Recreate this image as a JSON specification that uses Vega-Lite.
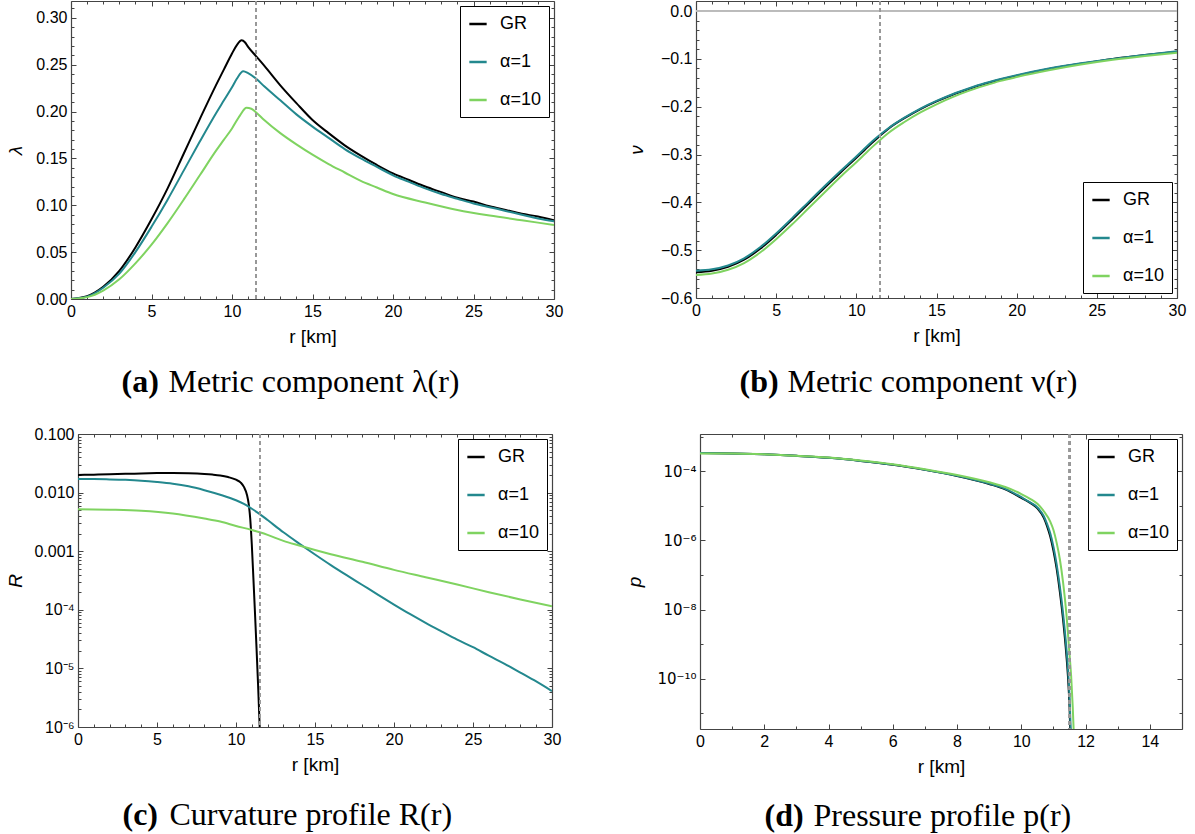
{
  "$schema": "https://vega.github.io/schema/vega-lite/v6.json",
  "padding": {"left": 5, "top": 0, "right": 5, "bottom": 5},
  "background": "white",
  "config": {
    "font": "Liberation Sans",
    "view": {"stroke": null},
    "axis": {"domainColor": "#444", "tickColor": "#444", "labelFont": "Liberation Sans", "labelFontSize": 16, "labelColor": "#000", "titleFont": "Liberation Sans", "titleFontSize": 19, "titleFontWeight": "normal", "titleColor": "#000", "grid": false, "tickSize": -5, "domainWidth": 1.2, "tickWidth": 1, "labelFlush": false, "labelOverlap": false, "labelPadding": 9, "titlePadding": 8},
    "legend": {"title": null, "strokeColor": "#000", "fillColor": "#fff", "padding": 8, "rowPadding": 19, "labelFontSize": 18, "labelFont": "Liberation Sans", "symbolType": "stroke", "symbolSize": 300, "symbolStrokeWidth": 2.5, "labelOffset": 12, "offset": 5}
  },
  "datasets": {
    "lam": [
      {"r":0,"model":"GR","v":0},{"r":1,"model":"GR","v":0.003},{"r":2,"model":"GR","v":0.013},{"r":3,"model":"GR","v":0.030},{"r":4,"model":"GR","v":0.055},{"r":5,"model":"GR","v":0.085},{"r":6,"model":"GR","v":0.118},{"r":7,"model":"GR","v":0.155},{"r":8,"model":"GR","v":0.192},{"r":9,"model":"GR","v":0.228},{"r":9.5,"model":"GR","v":0.245},{"r":10,"model":"GR","v":0.262},{"r":10.3,"model":"GR","v":0.271},{"r":10.6,"model":"GR","v":0.276},{"r":10.8,"model":"GR","v":0.274},{"r":11,"model":"GR","v":0.269},{"r":11.5,"model":"GR","v":0.259},{"r":12,"model":"GR","v":0.249},{"r":13,"model":"GR","v":0.228},{"r":14,"model":"GR","v":0.209},{"r":15,"model":"GR","v":0.191},{"r":16,"model":"GR","v":0.177},{"r":17,"model":"GR","v":0.164},{"r":18,"model":"GR","v":0.153},{"r":19,"model":"GR","v":0.143},{"r":20,"model":"GR","v":0.134},{"r":21,"model":"GR","v":0.127},{"r":22,"model":"GR","v":0.120},{"r":23,"model":"GR","v":0.114},{"r":24,"model":"GR","v":0.108},{"r":25,"model":"GR","v":0.104},{"r":26,"model":"GR","v":0.099},{"r":27,"model":"GR","v":0.095},{"r":28,"model":"GR","v":0.091},{"r":29,"model":"GR","v":0.088},{"r":30,"model":"GR","v":0.084},
      {"r":0,"model":"α=1","v":0},{"r":1,"model":"α=1","v":0.0025},{"r":2,"model":"α=1","v":0.012},{"r":3,"model":"α=1","v":0.027},{"r":4,"model":"α=1","v":0.050},{"r":5,"model":"α=1","v":0.077},{"r":6,"model":"α=1","v":0.106},{"r":7,"model":"α=1","v":0.137},{"r":8,"model":"α=1","v":0.168},{"r":9,"model":"α=1","v":0.198},{"r":9.5,"model":"α=1","v":0.212},{"r":10,"model":"α=1","v":0.226},{"r":10.3,"model":"α=1","v":0.235},{"r":10.7,"model":"α=1","v":0.243},{"r":11,"model":"α=1","v":0.241},{"r":11.5,"model":"α=1","v":0.235},{"r":12,"model":"α=1","v":0.227},{"r":13,"model":"α=1","v":0.212},{"r":14,"model":"α=1","v":0.197},{"r":15,"model":"α=1","v":0.184},{"r":16,"model":"α=1","v":0.172},{"r":17,"model":"α=1","v":0.160},{"r":18,"model":"α=1","v":0.150},{"r":19,"model":"α=1","v":0.141},{"r":20,"model":"α=1","v":0.132},{"r":21,"model":"α=1","v":0.125},{"r":22,"model":"α=1","v":0.118},{"r":23,"model":"α=1","v":0.112},{"r":24,"model":"α=1","v":0.107},{"r":25,"model":"α=1","v":0.102},{"r":26,"model":"α=1","v":0.098},{"r":27,"model":"α=1","v":0.094},{"r":28,"model":"α=1","v":0.090},{"r":29,"model":"α=1","v":0.086},{"r":30,"model":"α=1","v":0.083},
      {"r":0,"model":"α=10","v":0},{"r":1,"model":"α=10","v":0.002},{"r":2,"model":"α=10","v":0.009},{"r":3,"model":"α=10","v":0.021},{"r":4,"model":"α=10","v":0.038},{"r":5,"model":"α=10","v":0.058},{"r":6,"model":"α=10","v":0.081},{"r":7,"model":"α=10","v":0.106},{"r":8,"model":"α=10","v":0.132},{"r":9,"model":"α=10","v":0.158},{"r":9.5,"model":"α=10","v":0.170},{"r":10,"model":"α=10","v":0.182},{"r":10.5,"model":"α=10","v":0.196},{"r":10.9,"model":"α=10","v":0.204},{"r":11.2,"model":"α=10","v":0.203},{"r":11.5,"model":"α=10","v":0.199},{"r":12,"model":"α=10","v":0.191},{"r":13,"model":"α=10","v":0.177},{"r":14,"model":"α=10","v":0.165},{"r":15,"model":"α=10","v":0.154},{"r":16,"model":"α=10","v":0.144},{"r":17,"model":"α=10","v":0.135},{"r":18,"model":"α=10","v":0.126},{"r":19,"model":"α=10","v":0.119},{"r":20,"model":"α=10","v":0.112},{"r":22,"model":"α=10","v":0.103},{"r":24,"model":"α=10","v":0.095},{"r":26,"model":"α=10","v":0.089},{"r":28,"model":"α=10","v":0.084},{"r":30,"model":"α=10","v":0.079}
    ],
    "nu": [
      {"r":0,"model":"GR","v":-0.546},{"r":1,"model":"GR","v":-0.543},{"r":2,"model":"GR","v":-0.535},{"r":3,"model":"GR","v":-0.520},{"r":4,"model":"GR","v":-0.497},{"r":5,"model":"GR","v":-0.468},{"r":6,"model":"GR","v":-0.436},{"r":7,"model":"GR","v":-0.403},{"r":8,"model":"GR","v":-0.370},{"r":9,"model":"GR","v":-0.338},{"r":10,"model":"GR","v":-0.307},{"r":10.5,"model":"GR","v":-0.291},{"r":11,"model":"GR","v":-0.275},{"r":11.5,"model":"GR","v":-0.260},{"r":12,"model":"GR","v":-0.246},{"r":13,"model":"GR","v":-0.224},{"r":14,"model":"GR","v":-0.205},{"r":15,"model":"GR","v":-0.189},{"r":16,"model":"GR","v":-0.175},{"r":17,"model":"GR","v":-0.163},{"r":18,"model":"GR","v":-0.152},{"r":19,"model":"GR","v":-0.143},{"r":20,"model":"GR","v":-0.135},{"r":22,"model":"GR","v":-0.121},{"r":24,"model":"GR","v":-0.110},{"r":26,"model":"GR","v":-0.100},{"r":28,"model":"GR","v":-0.092},{"r":30,"model":"GR","v":-0.085},
      {"r":0,"model":"α=1","v":-0.543},{"r":1,"model":"α=1","v":-0.540},{"r":2,"model":"α=1","v":-0.532},{"r":3,"model":"α=1","v":-0.517},{"r":4,"model":"α=1","v":-0.494},{"r":5,"model":"α=1","v":-0.465},{"r":6,"model":"α=1","v":-0.433},{"r":7,"model":"α=1","v":-0.400},{"r":8,"model":"α=1","v":-0.367},{"r":9,"model":"α=1","v":-0.335},{"r":10,"model":"α=1","v":-0.304},{"r":10.5,"model":"α=1","v":-0.288},{"r":11,"model":"α=1","v":-0.272},{"r":11.5,"model":"α=1","v":-0.258},{"r":12,"model":"α=1","v":-0.245},{"r":13,"model":"α=1","v":-0.223},{"r":14,"model":"α=1","v":-0.204},{"r":15,"model":"α=1","v":-0.188},{"r":16,"model":"α=1","v":-0.174},{"r":17,"model":"α=1","v":-0.162},{"r":18,"model":"α=1","v":-0.151},{"r":19,"model":"α=1","v":-0.142},{"r":20,"model":"α=1","v":-0.134},{"r":22,"model":"α=1","v":-0.120},{"r":24,"model":"α=1","v":-0.109},{"r":26,"model":"α=1","v":-0.100},{"r":28,"model":"α=1","v":-0.092},{"r":30,"model":"α=1","v":-0.084},
      {"r":0,"model":"α=10","v":-0.552},{"r":1,"model":"α=10","v":-0.549},{"r":2,"model":"α=10","v":-0.541},{"r":3,"model":"α=10","v":-0.527},{"r":4,"model":"α=10","v":-0.505},{"r":5,"model":"α=10","v":-0.477},{"r":6,"model":"α=10","v":-0.446},{"r":7,"model":"α=10","v":-0.413},{"r":8,"model":"α=10","v":-0.380},{"r":9,"model":"α=10","v":-0.347},{"r":10,"model":"α=10","v":-0.316},{"r":10.5,"model":"α=10","v":-0.300},{"r":11,"model":"α=10","v":-0.284},{"r":11.5,"model":"α=10","v":-0.269},{"r":12,"model":"α=10","v":-0.255},{"r":13,"model":"α=10","v":-0.232},{"r":14,"model":"α=10","v":-0.212},{"r":15,"model":"α=10","v":-0.195},{"r":16,"model":"α=10","v":-0.180},{"r":17,"model":"α=10","v":-0.167},{"r":18,"model":"α=10","v":-0.156},{"r":19,"model":"α=10","v":-0.146},{"r":20,"model":"α=10","v":-0.138},{"r":22,"model":"α=10","v":-0.124},{"r":24,"model":"α=10","v":-0.112},{"r":26,"model":"α=10","v":-0.102},{"r":28,"model":"α=10","v":-0.094},{"r":30,"model":"α=10","v":-0.087}
    ],
    "curv": [
      {"r":0,"model":"GR","v":0.0200},{"r":1,"model":"GR","v":0.0202},{"r":2,"model":"GR","v":0.0205},{"r":3,"model":"GR","v":0.0209},{"r":4,"model":"GR","v":0.0212},{"r":5,"model":"GR","v":0.0215},{"r":6,"model":"GR","v":0.0216},{"r":7,"model":"GR","v":0.0214},{"r":8,"model":"GR","v":0.0208},{"r":8.5,"model":"GR","v":0.0203},{"r":9,"model":"GR","v":0.0196},{"r":9.5,"model":"GR","v":0.0184},{"r":10,"model":"GR","v":0.0166},{"r":10.3,"model":"GR","v":0.0148},{"r":10.5,"model":"GR","v":0.0125},{"r":10.7,"model":"GR","v":0.0090},{"r":10.8,"model":"GR","v":0.0065},{"r":10.9,"model":"GR","v":0.0036},{"r":11.0,"model":"GR","v":0.0013},{"r":11.1,"model":"GR","v":0.00035},{"r":11.2,"model":"GR","v":0.00009},{"r":11.3,"model":"GR","v":0.000022},{"r":11.4,"model":"GR","v":0.000005},{"r":11.5,"model":"GR","v":0.000001},{"r":11.6,"model":"GR","v":0.00000015},
      {"r":0,"model":"α=1","v":0.0170},{"r":1,"model":"α=1","v":0.0170},{"r":2,"model":"α=1","v":0.0168},{"r":3,"model":"α=1","v":0.0165},{"r":4,"model":"α=1","v":0.0160},{"r":5,"model":"α=1","v":0.0152},{"r":6,"model":"α=1","v":0.0142},{"r":7,"model":"α=1","v":0.0128},{"r":8,"model":"α=1","v":0.0110},{"r":9,"model":"α=1","v":0.0092},{"r":10,"model":"α=1","v":0.0074},{"r":10.5,"model":"α=1","v":0.0064},{"r":11,"model":"α=1","v":0.0053},{"r":11.5,"model":"α=1","v":0.0043},{"r":12,"model":"α=1","v":0.0034},{"r":13,"model":"α=1","v":0.0021},{"r":14,"model":"α=1","v":0.00135},{"r":15,"model":"α=1","v":0.00088},{"r":16,"model":"α=1","v":0.00058},{"r":17,"model":"α=1","v":0.00039},{"r":18,"model":"α=1","v":0.000265},{"r":19,"model":"α=1","v":0.00018},{"r":20,"model":"α=1","v":0.000123},{"r":21,"model":"α=1","v":0.000085},{"r":22,"model":"α=1","v":0.00006},{"r":23,"model":"α=1","v":0.000043},{"r":24,"model":"α=1","v":0.000031},{"r":25,"model":"α=1","v":0.000023},{"r":26,"model":"α=1","v":0.0000165},{"r":27,"model":"α=1","v":0.000012},{"r":28,"model":"α=1","v":0.0000085},{"r":29,"model":"α=1","v":0.000006},{"r":30,"model":"α=1","v":0.0000041},
      {"r":0,"model":"α=10","v":0.0052},{"r":2,"model":"α=10","v":0.0051},{"r":4,"model":"α=10","v":0.0049},{"r":6,"model":"α=10","v":0.0044},{"r":8,"model":"α=10","v":0.0036},{"r":9,"model":"α=10","v":0.0032},{"r":10,"model":"α=10","v":0.0027},{"r":11,"model":"α=10","v":0.0023},{"r":11.5,"model":"α=10","v":0.0021},{"r":12,"model":"α=10","v":0.0019},{"r":13,"model":"α=10","v":0.0015},{"r":14,"model":"α=10","v":0.00125},{"r":15,"model":"α=10","v":0.00105},{"r":16,"model":"α=10","v":0.00089},{"r":18,"model":"α=10","v":0.00066},{"r":20,"model":"α=10","v":0.00048},{"r":22,"model":"α=10","v":0.00036},{"r":24,"model":"α=10","v":0.00027},{"r":26,"model":"α=10","v":0.0002},{"r":28,"model":"α=10","v":0.00015},{"r":30,"model":"α=10","v":0.000115}
    ],
    "pres": [
      {"r":0,"model":"GR","v":0.00034},{"r":1,"model":"GR","v":0.00033},{"r":2,"model":"GR","v":0.00031},{"r":3,"model":"GR","v":0.00028},{"r":4,"model":"GR","v":0.000245},{"r":5,"model":"GR","v":0.0002},{"r":6,"model":"GR","v":0.000155},{"r":7,"model":"GR","v":0.00011},{"r":8,"model":"GR","v":0.000073},{"r":9,"model":"GR","v":0.000043},{"r":9.5,"model":"GR","v":0.00003},{"r":10,"model":"GR","v":0.000017},{"r":10.3,"model":"GR","v":0.0000118},{"r":10.5,"model":"GR","v":0.0000085},{"r":10.7,"model":"GR","v":0.0000045},{"r":10.8,"model":"GR","v":0.0000026},{"r":10.9,"model":"GR","v":0.0000013},{"r":11.0,"model":"GR","v":5e-7},{"r":11.1,"model":"GR","v":1.5e-7},{"r":11.2,"model":"GR","v":3.2e-8},{"r":11.3,"model":"GR","v":5e-9},{"r":11.4,"model":"GR","v":5e-10},{"r":11.45,"model":"GR","v":1.2e-10},{"r":11.5,"model":"GR","v":1.5e-11},{"r":11.55,"model":"GR","v":5e-13},
      {"r":0,"model":"α=1","v":0.00034},{"r":1,"model":"α=1","v":0.00033},{"r":2,"model":"α=1","v":0.00031},{"r":3,"model":"α=1","v":0.00028},{"r":4,"model":"α=1","v":0.000245},{"r":5,"model":"α=1","v":0.0002},{"r":6,"model":"α=1","v":0.000156},{"r":7,"model":"α=1","v":0.000111},{"r":8,"model":"α=1","v":0.000074},{"r":9,"model":"α=1","v":0.000044},{"r":9.5,"model":"α=1","v":0.000031},{"r":10,"model":"α=1","v":0.0000178},{"r":10.3,"model":"α=1","v":0.0000122},{"r":10.5,"model":"α=1","v":0.000009},{"r":10.7,"model":"α=1","v":0.000005},{"r":10.8,"model":"α=1","v":0.000003},{"r":10.9,"model":"α=1","v":0.0000016},{"r":11.0,"model":"α=1","v":6.5e-7},{"r":11.1,"model":"α=1","v":2e-7},{"r":11.2,"model":"α=1","v":4.5e-8},{"r":11.3,"model":"α=1","v":7.5e-9},{"r":11.4,"model":"α=1","v":8e-10},{"r":11.45,"model":"α=1","v":2e-10},{"r":11.5,"model":"α=1","v":3e-11},{"r":11.55,"model":"α=1","v":1.5e-12},
      {"r":0,"model":"α=10","v":0.00033},{"r":1,"model":"α=10","v":0.000325},{"r":2,"model":"α=10","v":0.00031},{"r":3,"model":"α=10","v":0.00028},{"r":4,"model":"α=10","v":0.00025},{"r":5,"model":"α=10","v":0.000205},{"r":6,"model":"α=10","v":0.00016},{"r":7,"model":"α=10","v":0.000115},{"r":8,"model":"α=10","v":0.000078},{"r":9,"model":"α=10","v":0.000048},{"r":9.5,"model":"α=10","v":0.000035},{"r":10,"model":"α=10","v":0.000022},{"r":10.3,"model":"α=10","v":0.0000155},{"r":10.5,"model":"α=10","v":0.0000115},{"r":10.7,"model":"α=10","v":0.000007},{"r":10.9,"model":"α=10","v":0.0000035},{"r":11.0,"model":"α=10","v":0.000002},{"r":11.1,"model":"α=10","v":8.5e-7},{"r":11.2,"model":"α=10","v":2.8e-7},{"r":11.3,"model":"α=10","v":6e-8},{"r":11.4,"model":"α=10","v":8e-9},{"r":11.5,"model":"α=10","v":5e-10},{"r":11.55,"model":"α=10","v":1.2e-10},{"r":11.6,"model":"α=10","v":1.5e-11},{"r":11.65,"model":"α=10","v":1e-12}
    ],
    "spacer": [{"k": 1}]
  },
  "spacing": 29,
  "resolve": {"scale": {"color": "independent"}, "legend": {"color": "independent"}},
  "vconcat": [
    {
      "spacing": 64,
      "resolve": {"scale": {"color": "independent"}, "legend": {"color": "independent"}},
      "hconcat": [
        {
          "spacing": 0,
          "resolve": {"scale": {"color": "independent"}, "legend": {"color": "independent"}},
          "hconcat": [
            {"width": 1, "height": 1, "data": {"name": "spacer"}, "mark": {"type": "point", "opacity": 0, "size": 0, "strokeWidth": 0}},
            {
              "width": 483, "height": 298,
              "data": {"name": "lam"},
              "resolve": {"axis": {"x": "independent", "y": "independent"}},
              "layer": [
                {"mark": {"type": "line", "strokeWidth": 2, "clip": true, "interpolate": "monotone"},
                 "encoding": {
                   "x": {"field": "r", "type": "quantitative", "scale": {"domain": [0, 30], "nice": false}, "axis": {"orient": "bottom", "values": [0,5,10,15,20,25,30], "title": "r [km]"}},
                   "y": {"field": "v", "type": "quantitative", "scale": {"domain": [0, 0.318], "nice": false, "zero": false}, "axis": {"orient": "left", "values": [0,0.05,0.1,0.15,0.2,0.25,0.3], "format": ".2f", "title": "λ", "titleFontStyle": "italic", "titlePadding": 10}},
                   "color": {"field": "model", "type": "nominal", "scale": {"domain": ["GR","α=1","α=10"], "range": ["#000000","#23888e","#7fd360"]}, "legend": {"orient": "top-right"}}
                 }},
                {"mark": {"type": "point", "opacity": 0},
                 "encoding": {
                   "x": {"field": "r", "type": "quantitative", "axis": {"orient": "bottom", "values": [1,2,3,4,6,7,8,9,11,12,13,14,16,17,18,19,21,22,23,24,26,27,28,29], "labels": false, "domain": false, "tickSize": -3, "title": null}},
                   "y": {"field": "v", "type": "quantitative", "axis": {"orient": "left", "values": [0.01,0.02,0.03,0.04,0.06,0.07,0.08,0.09,0.11,0.12,0.13,0.14,0.16,0.17,0.18,0.19,0.21,0.22,0.23,0.24,0.26,0.27,0.28,0.29,0.31], "labels": false, "domain": false, "tickSize": -3, "title": null}}
                 }},
                {"mark": {"type": "point", "opacity": 0},
                 "encoding": {
                   "x": {"field": "r", "type": "quantitative", "axis": {"orient": "top", "values": [0,5,10,15,20,25,30], "labels": false, "title": null}},
                   "y": {"field": "v", "type": "quantitative", "axis": {"orient": "right", "values": [0,0.05,0.1,0.15,0.2,0.25,0.3], "labels": false, "title": null}}
                 }},
                {"mark": {"type": "point", "opacity": 0},
                 "encoding": {
                   "x": {"field": "r", "type": "quantitative", "axis": {"orient": "top", "values": [1,2,3,4,6,7,8,9,11,12,13,14,16,17,18,19,21,22,23,24,26,27,28,29], "labels": false, "domain": false, "tickSize": -3, "title": null}},
                   "y": {"field": "v", "type": "quantitative", "axis": {"orient": "right", "values": [0.01,0.02,0.03,0.04,0.06,0.07,0.08,0.09,0.11,0.12,0.13,0.14,0.16,0.17,0.18,0.19,0.21,0.22,0.23,0.24,0.26,0.27,0.28,0.29,0.31], "labels": false, "domain": false, "tickSize": -3, "title": null}}
                 }},
                {"mark": {"type": "point", "opacity": 0},
                 "encoding": {
                   "x": {"field": "r", "type": "quantitative", "axis": {"orient": "bottom", "labels": false, "ticks": false, "domain": false, "title": "(a)", "titleX": 50, "titleY": 92, "titleAlign": "left", "titleBaseline": "alphabetic", "titleFont": "Liberation Serif", "titleFontSize": 32, "titleFontWeight": "bold"}},
                   "y": {"field": "v", "type": "quantitative", "axis": null}
                 }},
                {"mark": {"type": "point", "opacity": 0},
                 "encoding": {
                   "x": {"field": "r", "type": "quantitative", "axis": {"orient": "bottom", "labels": false, "ticks": false, "domain": false, "title": "Metric component λ(r)", "titleX": 97, "titleY": 92, "titleAlign": "left", "titleBaseline": "alphabetic", "titleFont": "Liberation Serif", "titleFontSize": 32, "titleFontWeight": "normal"}},
                   "y": {"field": "v", "type": "quantitative", "axis": null}
                 }},
                {"mark": {"type": "rule", "strokeDash": [4, 3], "color": "#999", "strokeWidth": 1.2},
                 "encoding": {"x": {"datum": 11.5, "type": "quantitative", "axis": null}}}
              ]
            }
          ]
        },
        {
          "width": 481, "height": 297,
          "data": {"name": "nu"},
          "resolve": {"axis": {"x": "independent", "y": "independent"}},
          "layer": [
            {"mark": {"type": "rule", "color": "#bbb", "strokeWidth": 1},
             "encoding": {"y": {"datum": 0, "type": "quantitative", "axis": null}}},
            {"mark": {"type": "line", "strokeWidth": 2, "clip": true, "interpolate": "monotone"},
             "encoding": {
               "x": {"field": "r", "type": "quantitative", "scale": {"domain": [0, 30], "nice": false}, "axis": {"orient": "bottom", "values": [0,5,10,15,20,25,30], "title": "r [km]"}},
               "y": {"field": "v", "type": "quantitative", "scale": {"domain": [-0.6, 0.021], "nice": false, "zero": false}, "axis": {"orient": "left", "values": [-0.6,-0.5,-0.4,-0.3,-0.2,-0.1,0], "format": ".1f", "title": "ν", "titleFontStyle": "italic", "titlePadding": 14}},
               "color": {"field": "model", "type": "nominal", "scale": {"domain": ["GR","α=1","α=10"], "range": ["#000000","#23888e","#7fd360"]}, "legend": {"orient": "bottom-right"}}
             }},
            {"mark": {"type": "point", "opacity": 0},
             "encoding": {
               "x": {"field": "r", "type": "quantitative", "axis": {"orient": "bottom", "values": [1,2,3,4,6,7,8,9,11,12,13,14,16,17,18,19,21,22,23,24,26,27,28,29], "labels": false, "domain": false, "tickSize": -3, "title": null}},
               "y": {"field": "v", "type": "quantitative", "axis": {"orient": "left", "values": [-0.58,-0.56,-0.54,-0.52,-0.48,-0.46,-0.44,-0.42,-0.38,-0.36,-0.34,-0.32,-0.28,-0.26,-0.24,-0.22,-0.18,-0.16,-0.14,-0.12,-0.08,-0.06,-0.04,-0.02,0.02], "labels": false, "domain": false, "tickSize": -3, "title": null}}
             }},
            {"mark": {"type": "point", "opacity": 0},
             "encoding": {
               "x": {"field": "r", "type": "quantitative", "axis": {"orient": "top", "values": [0,5,10,15,20,25,30], "labels": false, "title": null}},
               "y": {"field": "v", "type": "quantitative", "axis": {"orient": "right", "values": [-0.6,-0.5,-0.4,-0.3,-0.2,-0.1,0], "labels": false, "title": null}}
             }},
            {"mark": {"type": "point", "opacity": 0},
             "encoding": {
               "x": {"field": "r", "type": "quantitative", "axis": {"orient": "top", "values": [1,2,3,4,6,7,8,9,11,12,13,14,16,17,18,19,21,22,23,24,26,27,28,29], "labels": false, "domain": false, "tickSize": -3, "title": null}},
               "y": {"field": "v", "type": "quantitative", "axis": {"orient": "right", "values": [-0.58,-0.56,-0.54,-0.52,-0.48,-0.46,-0.44,-0.42,-0.38,-0.36,-0.34,-0.32,-0.28,-0.26,-0.24,-0.22,-0.18,-0.16,-0.14,-0.12,-0.08,-0.06,-0.04,-0.02,0.02], "labels": false, "domain": false, "tickSize": -3, "title": null}}
             }},
            {"mark": {"type": "point", "opacity": 0},
             "encoding": {
               "x": {"field": "r", "type": "quantitative", "axis": {"orient": "bottom", "labels": false, "ticks": false, "domain": false, "title": "(b)", "titleX": 43, "titleY": 93, "titleAlign": "left", "titleBaseline": "alphabetic", "titleFont": "Liberation Serif", "titleFontSize": 32, "titleFontWeight": "bold"}},
               "y": {"field": "v", "type": "quantitative", "axis": null}
             }},
            {"mark": {"type": "point", "opacity": 0},
             "encoding": {
               "x": {"field": "r", "type": "quantitative", "axis": {"orient": "bottom", "labels": false, "ticks": false, "domain": false, "title": "Metric component ν(r)", "titleX": 91, "titleY": 93, "titleAlign": "left", "titleBaseline": "alphabetic", "titleFont": "Liberation Serif", "titleFontSize": 32, "titleFontWeight": "normal"}},
               "y": {"field": "v", "type": "quantitative", "axis": null}
             }},
            {"mark": {"type": "rule", "strokeDash": [4, 3], "color": "#999", "strokeWidth": 1.2},
             "encoding": {"x": {"datum": 11.5, "type": "quantitative", "axis": null}}}
          ]
        }
      ]
    },
    {
      "spacing": 64,
      "resolve": {"scale": {"color": "independent"}, "legend": {"color": "independent"}},
      "hconcat": [
        {
          "spacing": 0,
          "resolve": {"scale": {"color": "independent"}, "legend": {"color": "independent"}},
          "hconcat": [
            {"width": 1, "height": 1, "data": {"name": "spacer"}, "mark": {"type": "point", "opacity": 0, "size": 0, "strokeWidth": 0}},
            {
              "width": 474, "height": 293,
              "data": {"name": "curv"},
              "resolve": {"axis": {"x": "independent", "y": "independent"}},
              "layer": [
                {"mark": {"type": "line", "strokeWidth": 2, "clip": true, "interpolate": "monotone"},
                 "encoding": {
                   "x": {"field": "r", "type": "quantitative", "scale": {"domain": [0, 30], "nice": false}, "axis": {"orient": "bottom", "values": [0,5,10,15,20,25,30], "title": "r [km]"}},
                   "y": {"field": "v", "type": "quantitative", "scale": {"type": "log", "domain": [0.000001, 0.1], "nice": false}, "axis": {"orient": "left", "values": [0.000001,0.00001,0.0001,0.001,0.01,0.1], "labelExpr": "datum.value < 5e-6 ? '10⁻⁶' : datum.value < 5e-5 ? '10⁻⁵' : datum.value < 5e-4 ? '10⁻⁴' : format(datum.value, '.3f')", "title": "R", "titleFontStyle": "italic"}},
                   "color": {"field": "model", "type": "nominal", "scale": {"domain": ["GR","α=1","α=10"], "range": ["#000000","#23888e","#7fd360"]}, "legend": {"orient": "top-right"}}
                 }},
                {"mark": {"type": "point", "opacity": 0},
                 "encoding": {
                   "x": {"field": "r", "type": "quantitative", "axis": {"orient": "bottom", "values": [1,2,3,4,6,7,8,9,11,12,13,14,16,17,18,19,21,22,23,24,26,27,28,29], "labels": false, "domain": false, "tickSize": -3, "title": null}},
                   "y": {"field": "v", "type": "quantitative", "axis": {"orient": "left", "values": [0.000002,0.000003,0.000004,0.000005,0.000006,0.000007,0.000008,0.000009,0.00002,0.00003,0.00004,0.00005,0.00006,0.00007,0.00008,0.00009,0.0002,0.0003,0.0004,0.0005,0.0006,0.0007,0.0008,0.0009,0.002,0.003,0.004,0.005,0.006,0.007,0.008,0.009,0.02,0.03,0.04,0.05,0.06,0.07,0.08,0.09], "labels": false, "domain": false, "tickSize": -3, "title": null}}
                 }},
                {"mark": {"type": "point", "opacity": 0},
                 "encoding": {
                   "x": {"field": "r", "type": "quantitative", "axis": {"orient": "top", "values": [0,5,10,15,20,25,30], "labels": false, "title": null}},
                   "y": {"field": "v", "type": "quantitative", "axis": {"orient": "right", "values": [0.000001,0.00001,0.0001,0.001,0.01,0.1], "labels": false, "title": null}}
                 }},
                {"mark": {"type": "point", "opacity": 0},
                 "encoding": {
                   "x": {"field": "r", "type": "quantitative", "axis": {"orient": "top", "values": [1,2,3,4,6,7,8,9,11,12,13,14,16,17,18,19,21,22,23,24,26,27,28,29], "labels": false, "domain": false, "tickSize": -3, "title": null}},
                   "y": {"field": "v", "type": "quantitative", "axis": {"orient": "right", "values": [0.000002,0.000003,0.000004,0.000005,0.000006,0.000007,0.000008,0.000009,0.00002,0.00003,0.00004,0.00005,0.00006,0.00007,0.00008,0.00009,0.0002,0.0003,0.0004,0.0005,0.0006,0.0007,0.0008,0.0009,0.002,0.003,0.004,0.005,0.006,0.007,0.008,0.009,0.02,0.03,0.04,0.05,0.06,0.07,0.08,0.09], "labels": false, "domain": false, "tickSize": -3, "title": null}}
                 }},
                {"mark": {"type": "point", "opacity": 0},
                 "encoding": {
                   "x": {"field": "r", "type": "quantitative", "axis": {"orient": "bottom", "labels": false, "ticks": false, "domain": false, "title": "(c)", "titleX": 44, "titleY": 97, "titleAlign": "left", "titleBaseline": "alphabetic", "titleFont": "Liberation Serif", "titleFontSize": 32, "titleFontWeight": "bold"}},
                   "y": {"field": "v", "type": "quantitative", "axis": null}
                 }},
                {"mark": {"type": "point", "opacity": 0},
                 "encoding": {
                   "x": {"field": "r", "type": "quantitative", "axis": {"orient": "bottom", "labels": false, "ticks": false, "domain": false, "title": "Curvature profile R(r)", "titleX": 91, "titleY": 97, "titleAlign": "left", "titleBaseline": "alphabetic", "titleFont": "Liberation Serif", "titleFontSize": 32, "titleFontWeight": "normal"}},
                   "y": {"field": "v", "type": "quantitative", "axis": null}
                 }},
                {"mark": {"type": "rule", "strokeDash": [4, 3], "color": "#999", "strokeWidth": 1.2},
                 "encoding": {"x": {"datum": 11.5, "type": "quantitative", "axis": null}}}
              ]
            }
          ]
        },
        {
          "width": 482, "height": 295,
          "data": {"name": "pres"},
          "resolve": {"axis": {"x": "independent", "y": "independent"}},
          "layer": [
            {"mark": {"type": "line", "strokeWidth": 2, "clip": true, "interpolate": "monotone"},
             "encoding": {
               "x": {"field": "r", "type": "quantitative", "scale": {"domain": [0, 15], "nice": false}, "axis": {"orient": "bottom", "values": [0,2,4,6,8,10,12,14], "title": "r [km]"}},
               "y": {"field": "v", "type": "quantitative", "scale": {"type": "log", "domain": [3.5e-12, 0.0012], "nice": false}, "axis": {"orient": "left", "values": [0.0001,0.000001,1e-8,1e-10], "labelFont": "DejaVu Sans", "labelFontSize": 15, "labelExpr": "datum.value < 5e-10 ? '10⁻¹⁰' : datum.value < 5e-8 ? '10⁻⁸' : datum.value < 5e-6 ? '10⁻⁶' : '10⁻⁴'", "title": "p", "titleFontStyle": "italic", "titlePadding": 12}},
               "color": {"field": "model", "type": "nominal", "scale": {"domain": ["GR","α=1","α=10"], "range": ["#000000","#23888e","#7fd360"]}, "legend": {"orient": "top-right"}}
             }},
            {"mark": {"type": "point", "opacity": 0},
             "encoding": {
               "x": {"field": "r", "type": "quantitative", "axis": {"orient": "bottom", "values": [1,3,5,7,9,11,13,15], "labels": false, "domain": false, "tickSize": -3, "title": null}},
               "y": {"field": "v", "type": "quantitative", "axis": {"orient": "left", "values": [0.001,0.00001,1e-7,1e-9,1e-11], "labels": false, "domain": false, "tickSize": -3, "title": null}}
             }},
            {"mark": {"type": "point", "opacity": 0},
             "encoding": {
               "x": {"field": "r", "type": "quantitative", "axis": {"orient": "top", "values": [0,2,4,6,8,10,12,14], "labels": false, "title": null}},
               "y": {"field": "v", "type": "quantitative", "axis": {"orient": "right", "values": [0.0001,0.000001,1e-8,1e-10], "labels": false, "title": null}}
             }},
            {"mark": {"type": "point", "opacity": 0},
             "encoding": {
               "x": {"field": "r", "type": "quantitative", "axis": {"orient": "top", "values": [1,3,5,7,9,11,13,15], "labels": false, "domain": false, "tickSize": -3, "title": null}},
               "y": {"field": "v", "type": "quantitative", "axis": {"orient": "right", "values": [0.001,0.00001,1e-7,1e-9,1e-11], "labels": false, "domain": false, "tickSize": -3, "title": null}}
             }},
            {"mark": {"type": "point", "opacity": 0},
             "encoding": {
               "x": {"field": "r", "type": "quantitative", "axis": {"orient": "bottom", "labels": false, "ticks": false, "domain": false, "title": "(d)", "titleX": 64, "titleY": 96, "titleAlign": "left", "titleBaseline": "alphabetic", "titleFont": "Liberation Serif", "titleFontSize": 32, "titleFontWeight": "bold"}},
               "y": {"field": "v", "type": "quantitative", "axis": null}
             }},
            {"mark": {"type": "point", "opacity": 0},
             "encoding": {
               "x": {"field": "r", "type": "quantitative", "axis": {"orient": "bottom", "labels": false, "ticks": false, "domain": false, "title": "Pressure profile p(r)", "titleX": 113, "titleY": 96, "titleAlign": "left", "titleBaseline": "alphabetic", "titleFont": "Liberation Serif", "titleFontSize": 32, "titleFontWeight": "normal"}},
               "y": {"field": "v", "type": "quantitative", "axis": null}
             }},
            {"mark": {"type": "rule", "strokeDash": [4, 3], "color": "#999", "strokeWidth": 1.2},
             "encoding": {"x": {"datum": 11.5, "type": "quantitative", "axis": null}}}
          ]
        }
      ]
    }
  ]
}
